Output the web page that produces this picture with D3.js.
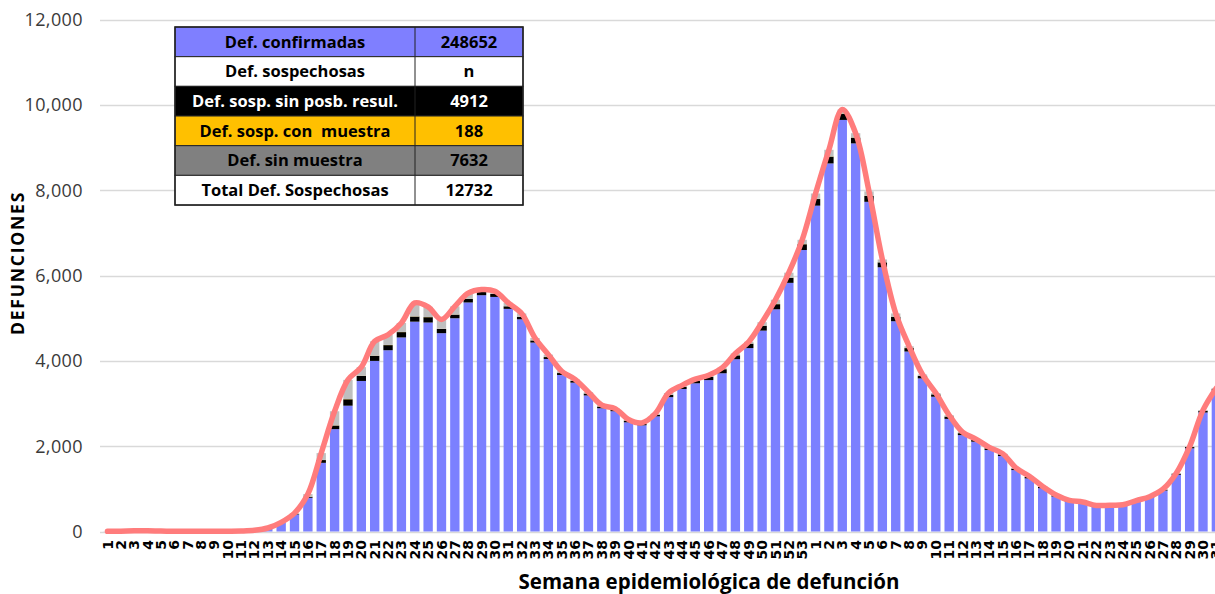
<!DOCTYPE html>
<html>
<head>
<meta charset="utf-8">
<script src="https://cdn.jsdelivr.net/npm/d3@7"></script>
<style>
  body { margin: 0; background: #fff; }
  svg { display: block; font-family: "Open Sans", sans-serif; }
</style>
</head>
<body>
<script>
var width = 1215,
    height = 594;

// semanas epidemiologicas: 2020 (1-53) y 2021 (1-31)
var weekLabels = [
  "1","2","3","4","5","6","7","8","9","10","11","12","13","14","15","16","17","18","19","20",
  "21","22","23","24","25","26","27","28","29","30","31","32","33","34","35","36","37","38","39","40",
  "41","42","43","44","45","46","47","48","49","50","51","52","53",
  "1","2","3","4","5","6","7","8","9","10","11","12","13","14","15","16","17","18","19","20",
  "21","22","23","24","25","26","27","28","29","30","31"
];

var confirmadas = [
  1,2,5,8,5,4,3,3,4,5,8,20,60,
  200,400,790,1610,2400,2950,3530,4000,4250,4550,4920,4900,4650,
  5000,5370,5540,5500,5220,4975,4430,4045,3670,3490,3190,2890,2820,2560,2490,2700,
  3150,3340,3475,3550,3710,4040,4300,4710,5210,5830,6600,
  7640,8630,9650,9100,7730,6195,4930,4220,3590,3160,2640,2260,2105,1910,1770,1440,
  1245,1015,820,700,660,585,590,600,700,790,960,1330,1950,2790,3300
];

var sinResultado = [
  0,0,0,0,0,0,0,0,0,0,0,0,2,
  5,10,25,65,85,150,120,120,120,125,120,125,100,
  85,85,80,70,60,60,50,45,45,45,45,40,35,40,35,35,
  55,55,65,80,95,90,105,115,120,120,135,
  155,160,145,135,140,115,105,80,60,55,55,45,40,40,40,35,
  35,30,25,20,20,15,15,15,15,15,20,25,30,40,45
];

var conMuestra = [
  0,0,0,0,0,0,0,0,0,0,0,0,0,
  0,1,2,3,4,5,4,4,4,4,4,3,3,
  3,3,3,3,2,2,2,2,2,2,2,2,2,2,2,2,
  2,2,2,2,3,3,3,3,4,4,4,
  5,5,5,4,4,3,3,3,2,2,2,2,2,2,1,1,
  1,1,1,1,1,1,1,1,1,1,1,1,1,1,1
];

var sinMuestra = [
  2,5,10,8,5,3,2,2,2,3,4,8,20,
  10,20,60,160,330,450,200,335,240,210,315,240,220,
  190,130,50,60,80,75,55,55,40,30,30,30,25,25,20,25,
  40,30,30,30,30,40,40,80,100,115,100,
  125,155,95,100,100,65,75,40,30,30,30,25,20,20,15,15,
  15,10,10,10,10,10,10,10,10,10,10,10,10,15,20
];

var yTicks = [0, 2000, 4000, 6000, 8000, 10000, 12000];

var tableLabels = ["Def. confirmadas", "Def. sospechosas", "Def. sosp. sin posb. resul.",
                   "Def. sosp. con  muestra", "Def. sin muestra", "Total Def. Sospechosas"];
var tableValues = ["248652", "n", "4912", "188", "7632", "12732"];

var seriesKeys = ["confirmadas", "sinResultado", "conMuestra", "sinMuestra"];
var seriesColor = {
  confirmadas: "#7b80ff",
  sinResultado: "#000000",
  conMuestra: "#ffc000",
  sinMuestra: "#bfbfbf"
};
var rowFill = ["#7f7fff", "#ffffff", "#000000", "#ffc000", "#808080", "#ffffff"];
var rowText = ["#000", "#000", "#fff", "#000", "#000", "#000"];

var rows = weekLabels.map(function(w, i) {
  return {
    i: i,
    confirmadas: confirmadas[i],
    sinResultado: sinResultado[i],
    conMuestra: conMuestra[i],
    sinMuestra: sinMuestra[i]
  };
});

var svg = d3.select("body")
  .append("svg")
  .attr("width", width)
  .attr("height", height);

var step = 13.36,
    x0 = 100.8;

var x = d3.scaleBand()
  .domain(d3.range(weekLabels.length))
  .range([x0, x0 + step * weekLabels.length])
  .paddingInner(0.3)
  .paddingOuter(0.15);

var y = d3.scaleLinear()
  .domain([0, 12000])
  .range([531.5, 19.7]);

// gridlines
svg.append("g")
  .selectAll("line")
  .data(yTicks)
  .enter().append("line")
  .attr("x1", 100)
  .attr("x2", width)
  .attr("y1", function(d) { return Math.round(y(d)) + 0.5; })
  .attr("y2", function(d) { return Math.round(y(d)) + 0.5; })
  .attr("stroke", "#d9d9d9")
  .attr("stroke-width", 1.3);

// y tick labels
svg.append("g")
  .selectAll("text")
  .data(yTicks)
  .enter().append("text")
  .attr("x", 83)
  .attr("y", function(d) { return y(d); })
  .attr("dy", "0.35em")
  .attr("text-anchor", "end")
  .attr("font-size", 18)
  .attr("letter-spacing", 0.4)
  .attr("fill", "#3a3a3a")
  .text(d3.format(","));

// stacked bars
var stacked = d3.stack().keys(seriesKeys)(rows);

svg.append("g")
  .selectAll("g")
  .data(stacked)
  .enter().append("g")
    .attr("fill", function(d) { return seriesColor[d.key]; })
  .selectAll("rect")
  .data(function(d) { return d; })
  .enter().append("rect")
    .attr("x", function(d) { return x(d.data.i); })
    .attr("width", x.bandwidth())
    .attr("y", function(d) { return y(d[1]); })
    .attr("height", function(d) { return Math.max(0, y(d[0]) - y(d[1])); });

// total line
var line = d3.line()
  .x(function(d) { return x(d.i) + x.bandwidth() / 2; })
  .y(function(d) { return y(d.confirmadas + d.sinResultado + d.conMuestra + d.sinMuestra); })
  .curve(d3.curveCatmullRom.alpha(0.5));

svg.append("path")
  .datum(rows)
  .attr("d", line)
  .attr("fill", "none")
  .attr("stroke", "#ff7c7c")
  .attr("stroke-width", 5.5)
  .attr("stroke-linejoin", "round")
  .attr("stroke-linecap", "round");

// x axis
var xAxis = svg.append("g")
  .attr("transform", "translate(0,540)")
  .call(d3.axisBottom(x).tickSize(0).tickFormat(function(i) { return weekLabels[i]; }));

xAxis.select(".domain").remove();
xAxis.selectAll("text")
  .attr("transform", "rotate(-90)")
  .attr("x", 0)
  .attr("y", 0)
  .attr("dy", "0.36em")
  .attr("text-anchor", "end")
  .attr("font-family", "DejaVu Sans")
  .attr("font-weight", "bold")
  .attr("font-size", 14)
  .attr("fill", "#000");

// axis titles
svg.append("text")
  .attr("x", 709)
  .attr("y", 589)
  .attr("text-anchor", "middle")
  .attr("font-size", 20.5)
  .attr("font-weight", "bold")
  .attr("fill", "#000")
  .text("Semana epidemiológica de defunción");

svg.append("text")
  .attr("transform", "translate(24,263) rotate(-90)")
  .attr("text-anchor", "middle")
  .attr("font-size", 17.5)
  .attr("font-weight", "bold")
  .attr("letter-spacing", 1.8)
  .attr("fill", "#000")
  .text("DEFUNCIONES");

// summary table
var tx = 175, tw1 = 240, tw2 = 108, ty = 27, rh = 29.67;

var table = svg.append("g");

var row = table.selectAll("g")
  .data(tableLabels)
  .enter().append("g")
  .attr("transform", function(d, i) { return "translate(" + tx + "," + (ty + i * rh) + ")"; });

row.append("rect")
  .attr("width", tw1 + tw2)
  .attr("height", rh)
  .attr("fill", function(d, i) { return rowFill[i]; })
  .attr("stroke", "#222")
  .attr("stroke-width", 1);

row.append("line")
  .attr("x1", tw1).attr("x2", tw1)
  .attr("y1", 0).attr("y2", rh)
  .attr("stroke", "#222");

row.append("text")
  .attr("x", tw1 / 2)
  .attr("y", rh / 2)
  .attr("dy", "0.35em")
  .attr("text-anchor", "middle")
  .attr("font-size", 16.5)
  .attr("font-weight", "bold")
  .style("white-space", "pre")
  .attr("fill", function(d, i) { return rowText[i]; })
  .text(function(d) { return d; });

row.append("text")
  .attr("x", tw1 + tw2 / 2)
  .attr("y", rh / 2)
  .attr("dy", "0.35em")
  .attr("text-anchor", "middle")
  .attr("font-size", 16.5)
  .attr("font-weight", "bold")
  .attr("fill", function(d, i) { return rowText[i]; })
  .text(function(d, i) { return tableValues[i]; });

table.append("rect")
  .attr("x", tx).attr("y", ty)
  .attr("width", tw1 + tw2).attr("height", rh * tableLabels.length)
  .attr("fill", "none")
  .attr("stroke", "#222")
  .attr("stroke-width", 1.5);
</script>
</body>
</html>
